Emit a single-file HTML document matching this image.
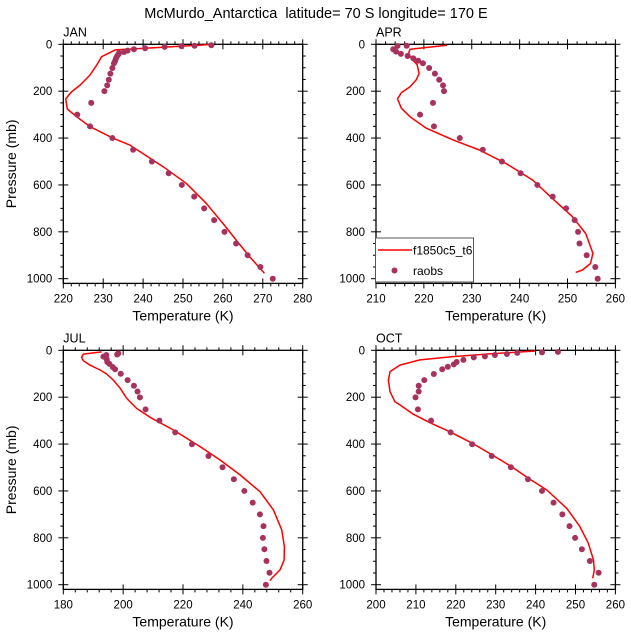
<!DOCTYPE html>
<html><head><meta charset="utf-8"><style>
html,body{margin:0;padding:0;background:#fff;}
svg{display:block;font-family:"Liberation Sans",Arial,sans-serif;}
</style></head><body>
<svg id="chart" width="631" height="640" viewBox="0 0 631 640" xmlns="http://www.w3.org/2000/svg">
<text x="316" y="18" text-anchor="middle" font-size="14.5">McMurdo_Antarctica&#160; latitude= 70 S longitude= 170 E</text>
</svg>
<script>
// ---- data ----
const janObsT=[257.1,252.9,249.6,245.4,240.5,237.7,236.1,235.2,234.0,233.8,233.5,233.2,233.0,232.7,232.3,231.8,231.4,231.0,230.3,227.0,223.5,226.7,232.3,237.5,242.2,246.4,249.7,252.8,255.3,257.8,260.4,263.3,266.2,269.4,272.5];
const janObsP=[4,6,8,11,17,21,27,33,37,43,50,60,70,81,101,125,151,175,200,250,300,350,400,450,500,550,600,650,700,750,800,850,900,950,1000];
const janModT=[257,233,229.6,228.4,226.7,224.2,222.1,220.6,221,223.3,226.7,232.5,236.7,245,250.8,255.8,260,263.3,266.7,270.4];
const janModP=[1,24,53,88,131,174,202,233,276,309,351,401,430,522,593,678,764,835,906,977];

const aprObsT=[216.4,214.5,213.6,214.2,215.2,216.6,217.8,218.8,219.8,221.1,222.3,223.2,224.0,224.2,221.9,219.2,222.1,227.5,232.3,236.3,240.2,243.7,246.9,249.7,251.5,252.2,252.5,254.0,255.8,256.3];
const aprObsP=[6,7,21,31,41,50,60,70,81,101,125,151,175,200,250,300,350,400,450,500,550,600,650,700,750,800,850,900,950,1000];
const aprModT=[224.8,217.1,216.8,217.4,218.6,219.0,218.4,217.1,215.3,214.5,215.3,217.1,220.5,226.1,231.6,237.1,242.7,246.8,251.0,253.8,254.8,255.3,254.8,253.1,251.7];
const aprModP=[4,21,38,60,88,124,152,181,206,233,273,309,358,408,451,508,579,657,735,807,863,892,935,963,973];

const julObsT=[198.4,198.0,194.4,193.4,194.5,194.7,195.4,196.5,197.3,199.2,201.5,203.6,204.8,205.6,207.5,212.1,217.4,223.0,228.5,233.2,237.0,240.5,243.3,245.7,246.9,246.7,247.2,247.9,248.9,247.7];
const julObsP=[13,18,20,27,38,50,58,71,81,100,127,151,176,201,252,300,350,401,451,499,550,600,650,700,750,800,849,899,949,1000];
const julModT=[192.8,186.7,186.1,186.7,188.9,192.3,194.5,196.7,199.0,201.2,204.5,209.0,216.8,225.7,232.4,239.1,245.7,250.2,253,253.9,253.8,252.4,249.6,249.1];
const julModP=[7,16,30,44,63,84,101,127,162,205,248,286,340,411,468,532,603,681,767,838,895,937,973,983];

const octObsT=[245.6,241.6,235.4,232.8,229.8,227.3,224.5,221.9,220.2,219.5,218.0,216.6,214.5,212.1,210.7,210.7,209.9,210.5,213.8,218.7,224.1,229.0,233.8,238.1,241.6,244.5,246.7,248.5,249.9,251.6,253.6,255.8,254.7];
const octObsP=[7,9,11,16,20,26,30,41,50,60,70,81,101,127,151,176,201,252,300,350,401,451,499,550,600,650,700,750,800,849,899,949,1000];
const octModT=[239.9,227.6,219.3,211.0,206.0,203.5,203.1,203.5,204.7,206.0,209.3,213.5,218.8,224.2,229.2,234.0,238.2,242.8,247.8,251.1,253.2,254.5,254.7,254.3];
const octModP=[3,16,27,41,63,91,127,176,219,233,272,309,350,397,447,497,546,596,674,752,823,895,937,973];

const panelNames=['JAN','APR','JUL','OCT'];
const xMins=[220,210,180,200];
const xMaxs=[280,260,260,260];
const xStepMajor=[10,10,20,10];
const yTicks=[0,200,400,600,800,1000];
const obsT=[janObsT,aprObsT,julObsT,octObsT];
const obsP=[janObsP,aprObsP,julObsP,octObsP];
const modT=[janModT,aprModT,julModT,octModT];
const modP=[janModP,aprModP,julModP,octModP];

const NS='http://www.w3.org/2000/svg';
const svg=document.getElementById('chart');
function mk(tag,attrs,parent){const e=document.createElementNS(NS,tag);for(const k in attrs)e.setAttribute(k,attrs[k]);(parent||svg).appendChild(e);return e;}
const boxL=[63.3,376,63.3,376], boxT=[44.3,44.3,350.3,350.3];
const W=239.4;
for(let i=0;i<4;i++){
  const L=boxL[i],T=boxT[i],R=L+W;
  const g=mk('g',{});
  
  
  const xs=t=>L+(t-xMins[i])/(xMaxs[i]-xMins[i])*W;
  const ys=p=>T+p*0.2344;
  const bottom=T+1020*0.2344;
  const box=mk('rect',{x:L,y:T,width:W,height:bottom-T,fill:'none',stroke:'#000','stroke-width':1.3},g);
  
  
  for(let p=0;p<=1000;p+=50){
    const y=ys(p),maj=p%200===0;
    mk('line',{x1:L-(maj?5:3),x2:L+(maj?5:0),y1:y,y2:y,stroke:'#000','stroke-width':1},g);
    mk('line',{x1:R+(maj?5:3),x2:R-(maj?5:0),y1:y,y2:y,stroke:'#000','stroke-width':1},g);
  }
  yTicks.forEach(p=>{const t=mk('text',{x:L-11,y:ys(p)+4,'text-anchor':'end','font-size':11.5},g);t.textContent=p;
    
    });
  const minor=xStepMajor[i]/5;
  for(let v=xMins[i];v<=xMaxs[i]+1e-6;v+=minor){
    const x=xs(v),maj=Math.abs((v-xMins[i])%xStepMajor[i])<1e-6;
    mk('line',{x1:x,x2:x,y1:bottom+(maj?5:3),y2:bottom-(maj?5:0),stroke:'#000','stroke-width':1},g);
    mk('line',{x1:x,x2:x,y1:T-(maj?5:3),y2:T+(maj?5:0),stroke:'#000','stroke-width':1},g);
  }
  for(let v=xMins[i];v<=xMaxs[i];v+=xStepMajor[i]){
    const t=mk('text',{x:xs(v),y:bottom+19,'text-anchor':'middle','font-size':11.5},g);t.textContent=v;
    
    
  }
  const xt=mk('text',{x:L+W/2,y:bottom+37,'text-anchor':'middle','font-size':14},g);xt.textContent='Temperature (K)';
  
  
  if(i%2===0){
    const yt=mk('text',{x:0,y:0,'text-anchor':'middle','font-size':14,transform:`translate(16,${(T+bottom)/2}) rotate(-90)`},g);yt.textContent='Pressure (mb)';
    
    
  }
  const pl=mk('text',{x:L,y:T-8,'font-size':12.5},g);pl.textContent=panelNames[i];
  
  
  const d=modT[i].map((t,k)=>(k?'L':'M')+xs(t).toFixed(1)+','+ys(modP[i][k]).toFixed(1)).join(' ');
  const line=mk('path',{d:d,fill:'none',stroke:'#ff0000','stroke-width':1.5,'stroke-linejoin':'round'},g);
  
  
  obsT[i].forEach((t,k)=>{
    const c=mk('circle',{cx:xs(t),cy:ys(obsP[i][k]),r:3,fill:'#a8325e'},g);
    
    
  });
}
const lg=mk('g',{});


mk('rect',{x:375.5,y:238,width:98,height:44,fill:'#fff',stroke:'#555','stroke-width':1},lg);
mk('line',{x1:378,x2:412,y1:250,y2:250,stroke:'#ff0000','stroke-width':1.5},lg);
const l1=mk('text',{x:413,y:254.5,'font-size':12},lg);l1.textContent='f1850c5_t6';


mk('circle',{cx:394.5,cy:270.5,r:3,fill:'#a8325e'},lg);
const l2=mk('text',{x:413,y:275,'font-size':12},lg);l2.textContent='raobs';


</script>
</body></html>
